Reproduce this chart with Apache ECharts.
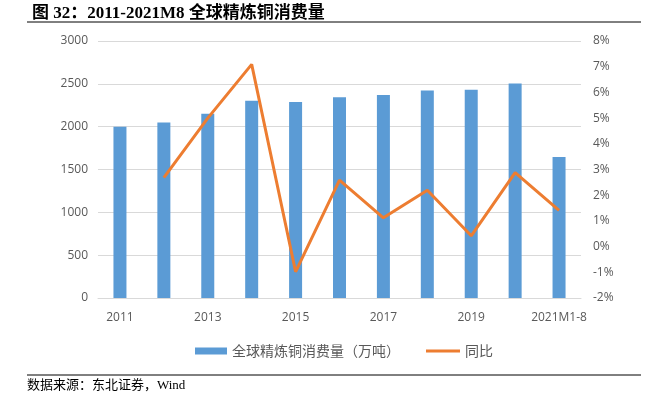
<!DOCTYPE html>
<html><head><meta charset="utf-8">
<script src="https://cdn.jsdelivr.net/npm/echarts@6/dist/echarts.min.js"></script>
<style>html,body{margin:0;padding:0;background:#fff}#c{width:648px;height:407px}</style>
</head><body><div id="c"></div>
<script>
const categories = ['2011','2012','2013','2014','2015','2016','2017','2018','2019','2020','2021M1-8'];
const consumption = [2000, 2050, 2150, 2302, 2287, 2342, 2369, 2423, 2431, 2505, 1645];
const yoy = [null, 2.68, 5.0, 7.09, -0.98, 2.59, 1.12, 2.19, 0.42, 2.88, 1.41];
const leftTicks = [0, 500, 1000, 1500, 2000, 2500, 3000];
const rightTicks = [-2, -1, 0, 1, 2, 3, 4, 5, 6, 7, 8];
const titleText = '图 32：2011-2021M8 全球精炼铜消费量';
const sourceText = '数据来源：东北证券，Wind';
const seriesNames = ['全球精炼铜消费量（万吨）', '同比'];

const chart = echarts.init(document.getElementById('c'));
const labelColor = '#595959';
const legendText = {color: labelColor, fontSize: 14, fontFamily: '"Noto Sans CJK SC",sans-serif'};
chart.setOption({
  animation: false,
  title: {
    text: titleText, left: 27, top: 0,
    textStyle: {fontFamily: '"Liberation Serif","Noto Sans CJK SC",serif', fontWeight: 'bold', fontSize: 17, color: '#000'}
  },
  graphic: [
    {type: 'line', shape: {x1: 27, y1: 22, x2: 641, y2: 22}, style: {stroke: '#000', lineWidth: 1}},
    {type: 'line', shape: {x1: 27, y1: 375, x2: 641, y2: 375}, style: {stroke: '#000', lineWidth: 1}},
    {type: 'text', left: 27, top: 379, style: {text: sourceText, font: '13px "Liberation Serif","Noto Sans CJK SC",serif', fill: '#000'}}
  ],
  legend: [
    {left: 190, top: 339, itemWidth: 32, itemHeight: 7, textStyle: legendText,
     data: [{name: seriesNames[0], icon: 'rect'}]},
    {left: 421, top: 339, itemWidth: 34, itemHeight: 3, textStyle: legendText,
     data: [{name: seriesNames[1], icon: 'rect'}]}
  ],
  grid: {left: 98, right: 67, top: 41, bottom: 109},
  xAxis: {
    type: 'category', data: categories,
    axisLine: {lineStyle: {color: '#d9d9d9'}},
    axisTick: {show: false},
    axisLabel: {interval: 1, color: labelColor, fontSize: 12, margin: 14, fontFamily: '"Open Sans","Noto Sans",sans-serif'}
  },
  yAxis: [
    {type: 'value', min: leftTicks[0], max: leftTicks[leftTicks.length-1], interval: 500,
     axisLine: {show: false}, axisTick: {show: false},
     axisLabel: {color: labelColor, fontSize: 12, margin: 10, formatter: v => String(v), fontFamily: '"Open Sans","Noto Sans",sans-serif'},
     splitLine: {lineStyle: {color: '#d9d9d9', width: 1}}},
    {type: 'value', min: rightTicks[0], max: rightTicks[rightTicks.length-1], interval: 1,
     axisLine: {show: false}, axisTick: {show: false},
     axisLabel: {color: labelColor, fontSize: 12, margin: 12, formatter: v => v + '%', fontFamily: '"Open Sans","Noto Sans",sans-serif'},
     splitLine: {show: false}}
  ],
  series: [
    {name: seriesNames[0], type: 'bar', data: consumption, barWidth: 13,
     itemStyle: {color: '#5B9BD5'}},
    {name: seriesNames[1], type: 'line', yAxisIndex: 1, data: yoy, symbol: 'none',
     lineStyle: {color: '#ED7D31', width: 3}, itemStyle: {color: '#ED7D31'}}
  ]
});
</script></body></html>
